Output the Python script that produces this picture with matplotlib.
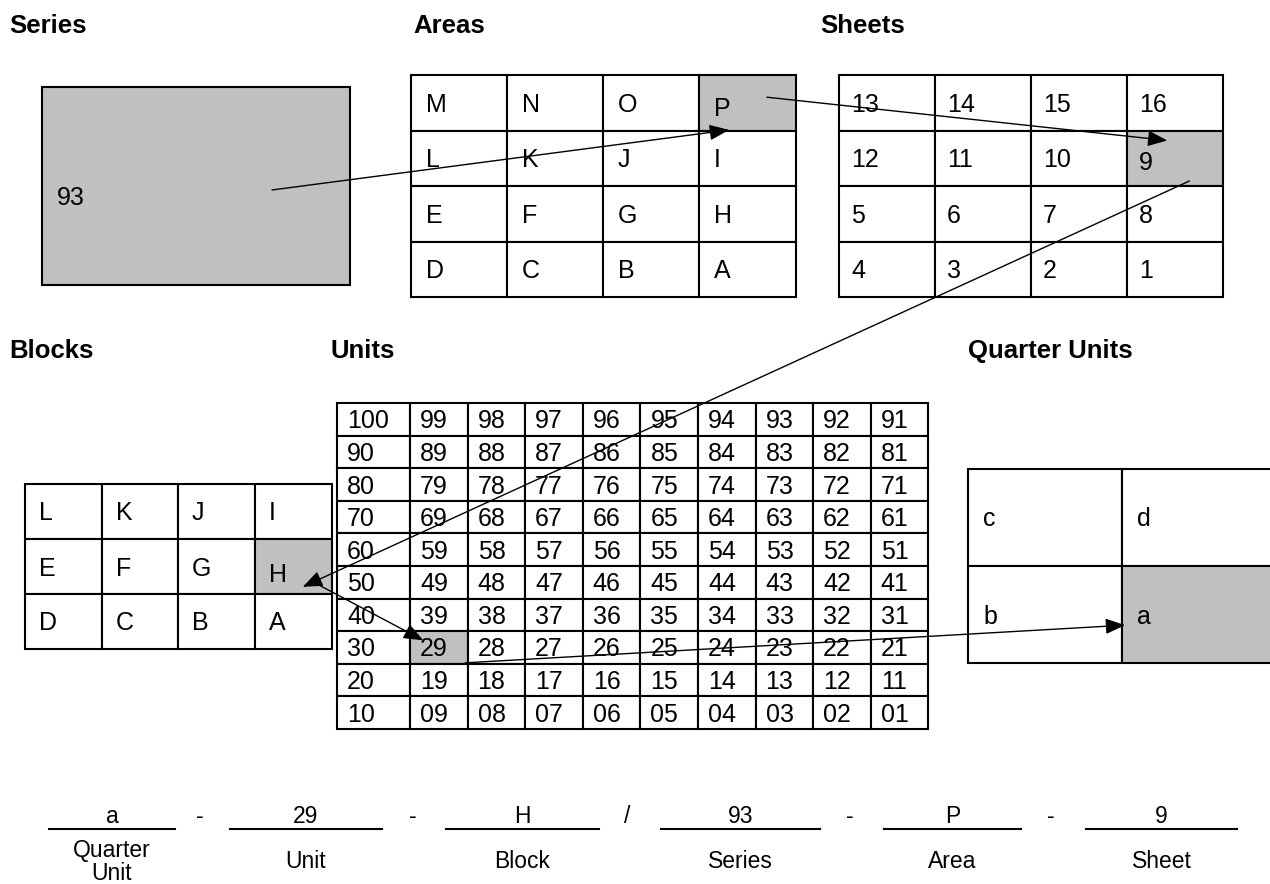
import matplotlib.pyplot as plt
from matplotlib.patches import Rectangle, FancyArrowPatch

plt.rcParams['font.family'] = ['Liberation Sans', 'DejaVu Sans']

# grid contents
series_label = '93'
area_labels = [['M', 'N', 'O', 'P'],
               ['L', 'K', 'J', 'I'],
               ['E', 'F', 'G', 'H'],
               ['D', 'C', 'B', 'A']]
sheet_labels = [['13', '14', '15', '16'],
                ['12', '11', '10', '9'],
                ['5', '6', '7', '8'],
                ['4', '3', '2', '1']]
block_labels = [['L', 'K', 'J', 'I'],
                ['E', 'F', 'G', 'H'],
                ['D', 'C', 'B', 'A']]
unit_labels = [['100', '99', '98', '97', '96', '95', '94', '93', '92', '91'],
               ['90', '89', '88', '87', '86', '85', '84', '83', '82', '81'],
               ['80', '79', '78', '77', '76', '75', '74', '73', '72', '71'],
               ['70', '69', '68', '67', '66', '65', '64', '63', '62', '61'],
               ['60', '59', '58', '57', '56', '55', '54', '53', '52', '51'],
               ['50', '49', '48', '47', '46', '45', '44', '43', '42', '41'],
               ['40', '39', '38', '37', '36', '35', '34', '33', '32', '31'],
               ['30', '29', '28', '27', '26', '25', '24', '23', '22', '21'],
               ['20', '19', '18', '17', '16', '15', '14', '13', '12', '11'],
               ['10', '09', '08', '07', '06', '05', '04', '03', '02', '01']]
quarter_labels = [['c', 'd'],
                  ['b', 'a']]

# the reference code at the bottom
code_values = ['a', '29', 'H', '93', 'P', '9']
code_names = ['Quarter\nUnit', 'Unit', 'Block', 'Series', 'Area', 'Sheet']
code_seps = ['-', '-', '/', '-', '-']

GRAY = '#c0c0c0'
FS = 18


def draw_grid(ax, x0, y0, widths, row_h, labels, hl, pad, hl_dy=0.0):
    xs = [x0]
    for w in widths:
        xs.append(xs[-1] + w)
    for r, row in enumerate(labels):
        for c, lab in enumerate(row):
            y = y0 + r * row_h
            face = GRAY if (r, c) == hl else 'white'
            ax.add_patch(Rectangle((xs[c], y), widths[c], row_h, fc=face,
                                   ec='black', lw=1.5))
            dy = hl_dy if (r, c) == hl else 0
            ax.text(xs[c] + pad, y + row_h / 2 + 9 + dy, lab, ha='left',
                    va='baseline', fontsize=FS)

    def cell(r, c, fx, fy):
        return xs[c] + fx * widths[c], y0 + (r + fy) * row_h
    return cell


def arrow(ax, a, b):
    ax.add_patch(FancyArrowPatch(a, b, arrowstyle='-|>,head_length=0.6,head_width=0.24',
                                 mutation_scale=20, lw=1.0, color='black',
                                 shrinkA=0, shrinkB=0, zorder=5))


fig = plt.figure(figsize=(12.7, 8.84), dpi=100)
ax = fig.add_axes([0, 0, 1, 1])
ax.set_xlim(0, 1270)
ax.set_ylim(884, 0)
ax.axis('off')

# titles
title_kw = dict(fontsize=18.5, fontweight='bold', ha='left', va='baseline')
ax.text(9, 33, 'Series', **title_kw)
ax.text(413, 33, 'Areas', **title_kw)
ax.text(820, 33, 'Sheets', **title_kw)
ax.text(9, 358, 'Blocks', **title_kw)
ax.text(330, 358, 'Units', **title_kw)
ax.text(968, 358, 'Quarter Units', **title_kw)

series = draw_grid(ax, 42, 87, [308], 198, [[series_label]], (0, 0), 15, 10)
areas = draw_grid(ax, 411, 75, [96, 96, 96, 97], 55.5, area_labels, (0, 3), 15, 4)
sheets = draw_grid(ax, 839, 75, [96, 96, 96, 96], 55.5, sheet_labels, (1, 3), 12, 3)
blocks = draw_grid(ax, 25, 484, [77, 76, 77, 77], 55, block_labels, (1, 3), 14, 6)
units = draw_grid(ax, 337, 403, [73] + [57.6] * 9, 32.6, unit_labels, (7, 1), 10)
quarters = draw_grid(ax, 968, 469, [154, 154], 97, quarter_labels, (1, 1), 15)

# path of the example reference through the grids
arrow(ax, series(0, 0, 0.747, 0.52), areas(0, 3, 0.31, 0.99))
arrow(ax, areas(0, 3, 0.70, 0.40), sheets(1, 3, 0.42, 0.18))
arrow(ax, sheets(1, 3, 0.65, 0.91), blocks(1, 3, 0.62, 0.87))
arrow(ax, blocks(1, 3, 0.78, 0.80), units(7, 1, 0.23, 0.28))
arrow(ax, units(7, 1, 0.96, 0.97), quarters(1, 1, 0.02, 0.61))

# code line at the bottom
spans = [(49, 175), (230, 382), (446, 599), (661, 820), (884, 1021), (1086, 1237)]
sep_x = [200, 413, 627, 850, 1051]
CFS = 16.5
for (x1, x2), val, name in zip(spans, code_values, code_names):
    ax.plot([x1, x2], [829, 829], color='black', lw=1.5)
    xc = (x1 + x2) / 2
    ax.text(xc, 823, val, ha='center', va='baseline', fontsize=CFS)
    ax.text(xc, 862, name, ha='center', va='center', fontsize=CFS,
            linespacing=1.05)
for x, s in zip(sep_x, code_seps):
    ax.text(x, 823, s, ha='center', va='baseline', fontsize=CFS)

fig.savefig('out.png', dpi=100)
